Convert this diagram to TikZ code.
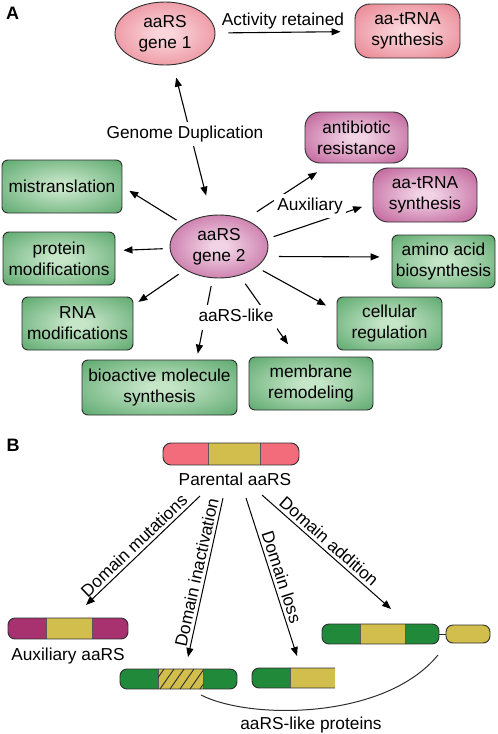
\documentclass[tikz,border=0pt]{standalone}
\usepackage{fontspec}
\setmainfont{Liberation Sans}
\usetikzlibrary{shapes.geometric,arrows.meta}
\definecolor{pinkin}{HTML}{FAD6DB}
\definecolor{pinkout}{HTML}{E77A88}
\definecolor{purpin}{HTML}{F1D3E5}
\definecolor{purpout}{HTML}{BA5390}
\definecolor{grnin}{HTML}{C6E6C8}
\definecolor{grnout}{HTML}{55A467}
\definecolor{edgecol}{HTML}{2E2E2E}
\definecolor{pinkbar}{HTML}{F26C7B}
\definecolor{yelbar}{HTML}{D1BE4C}
\definecolor{grnbar}{HTML}{218A3A}
\definecolor{purpbar}{HTML}{A83270}
\pgfdeclareradialshading{pinkglow}{\pgfpoint{0bp}{0bp}}{color(0bp)=(pinkin); color(4bp)=(pinkin); color(38bp)=(pinkout); color(75bp)=(pinkout)}
\pgfdeclareradialshading{purpglow}{\pgfpoint{0bp}{0bp}}{color(0bp)=(purpin); color(4bp)=(purpin); color(38bp)=(purpout); color(75bp)=(purpout)}
\pgfdeclareradialshading{grnglow}{\pgfpoint{0bp}{0bp}}{color(0bp)=(grnin); color(4bp)=(grnin); color(38bp)=(grnout); color(75bp)=(grnout)}
\begin{document}
\begin{tikzpicture}[x=1pt,y=-1pt,
  every node/.style={font=\fontsize{17.3}{21}\selectfont},
  shadebox/.style={draw=edgecol, line width=0.9pt, align=center, inner sep=0pt},
  gbox/.style={shadebox, rectangle, rounded corners=6pt, shading=grnglow},
  pbox/.style={shadebox, rectangle, rounded corners=15pt, shading=pinkglow},
  ubox/.style={shadebox, rectangle, rounded corners=15pt, shading=purpglow},
  pell/.style={shadebox, ellipse, shading=pinkglow},
  uell/.style={shadebox, ellipse, shading=purpglow},
  arr/.style={line width=1.1pt, -{Triangle[length=9pt,width=7pt]}},
  dblarr/.style={line width=1.1pt, {Triangle[length=9pt,width=7pt]}-{Triangle[length=9pt,width=7pt]}},
  lab/.style={fill=white, anchor=base, inner xsep=3pt, inner ysep=4pt, text height=12.5pt, text depth=4pt},
  blab/.style={anchor=base},
  slab/.style={sloped, above, inner sep=3pt},
  barline/.style={draw=edgecol, line width=0.9pt},
  divline/.style={draw=edgecol!80, line width=0.5pt},
  panellab/.style={font=\fontsize{18}{20}\selectfont\bfseries}
]
\useasboundingbox (0,0) rectangle (498,734);

% ---------- Panel A ----------
\node[panellab] (labA) at (12.5,13.5) {A};

\node[pell, minimum width=100pt, minimum height=63pt] (g1) at (165,33.5) {aaRS\\gene 1};
\node[pbox, minimum width=105pt, minimum height=54pt] (t1) at (407.5,31) {aa-tRNA\\synthesis};
\node[ubox, minimum width=103pt, minimum height=51pt] (ab) at (356.5,137.5) {antibiotic\\resistance};
\node[ubox, minimum width=104pt, minimum height=54pt] (t2) at (425,195) {aa-tRNA\\synthesis};
\node[uell, minimum width=98pt, minimum height=63pt] (g2) at (219,246.5) {aaRS\\gene 2};
\node[gbox, minimum width=120pt, minimum height=53pt] (mis) at (62,186.5) {mistranslation};
\node[gbox, minimum width=112pt, minimum height=53pt] (prot) at (59,258.5) {protein\\modifications};
\node[gbox, minimum width=103pt, minimum height=53pt] (amino) at (443.5,261.5) {amino acid\\biosynthesis};
\node[gbox, minimum width=111pt, minimum height=53pt] (rna) at (77.5,323.5) {RNA\\modifications};
\node[gbox, minimum width=105pt, minimum height=53pt] (cell) at (389.5,323.5) {cellular\\regulation};
\node[gbox, minimum width=155pt, minimum height=55pt] (bio) at (159.5,387.5) {bioactive molecule\\synthesis};
\node[gbox, minimum width=124pt, minimum height=53pt] (mem) at (311,383.5) {membrane\\remodeling};

\draw[arr, shorten <=13pt, shorten >=14pt] (g1) -- (t1);
\node[blab] (actlab) at (283,25) {Activity retained};
\draw[dblarr, shorten <=13pt, shorten >=20pt] (g1) -- (g2);

\draw[arr, shorten <=8pt, shorten >=8pt] (g2) -- (mis.east);
\draw[arr, shorten <=7pt, shorten >=8pt] (g2) -- (prot.8);
\draw[arr, shorten <=8pt, shorten >=6pt] (g2) -- (rna.18);
\draw[arr, shorten <=8pt, shorten >=6pt] (g2) -- (bio.37);
\draw[arr, shorten <=10pt, shorten >=15pt] (g2) -- (mem.118);
\draw[arr, shorten <=7pt, shorten >=12pt] (g2) -- (cell.167);
\draw[arr, shorten <=13pt, shorten >=12pt] (g2.-12) -- (amino.175);
\draw[arr, shorten <=7pt, shorten >=11pt] (g2.9) -- (t2.189);
\draw[arr, shorten <=14pt, shorten >=16pt] (g2.46) -- (ab.225);

\node[lab] (gdlab) at (185,138) {Genome Duplication};
\node[lab] (auxlab) at (310,210) {Auxiliary};
\node[lab] (likelab) at (236,321.5) {aaRS-like};

% ---------- Panel B ----------
\node[panellab] (labB) at (13,445) {B};

% parental bar
\begin{scope}
  \clip[rounded corners=8pt] (163,443) rectangle (299,465);
  \fill[pinkbar] (163,443) rectangle (208,465);
  \fill[yelbar] (208,443) rectangle (260,465);
  \fill[pinkbar] (260,443) rectangle (299,465);
  \draw[divline] (208,443) -- (208,465) (260,443) -- (260,465);
\end{scope}
\draw[barline, rounded corners=8pt] (163,443) rectangle (299,465);
\node[blab] (partext) at (235,485) {Parental aaRS};

% auxiliary bar
\begin{scope}
  \clip[rounded corners=7pt] (8,618) rectangle (128,639);
  \fill[purpbar] (8,618) rectangle (46,639);
  \fill[yelbar] (46,618) rectangle (92,639);
  \fill[purpbar] (92,618) rectangle (128,639);
  \draw[divline] (46,618) -- (46,639) (92,618) -- (92,639);
\end{scope}
\draw[barline, rounded corners=7pt] (8,618) rectangle (128,639);
\node[blab] (auxtext) at (68,660.5) {Auxiliary aaRS};

% inactivation bar
\begin{scope}
  \clip[rounded corners=7pt] (120,669) rectangle (237,689);
  \fill[grnbar] (120,669) rectangle (158,689);
  \fill[yelbar] (158,669) rectangle (203,689);
  \fill[grnbar] (203,669) rectangle (237,689);
  \draw[divline] (158,669) -- (158,689) (203,669) -- (203,689);
\end{scope}
\begin{scope}
  \clip (158,669) rectangle (203,689);
  \foreach \x in {150,160,...,200} \draw[line width=0.9pt, edgecol] (\x,689) -- ++(14,-20);
\end{scope}
\draw[barline, rounded corners=7pt] (120,669) rectangle (237,689);

% loss bar (open right end)
\begin{scope}
  \clip[rounded corners=7pt] (252,668) rectangle (345,688);
  \fill[grnbar] (252,668) rectangle (290,688);
  \fill[yelbar] (290,668) rectangle (335,688);
  \draw[divline] (290,668) -- (290,688);
\end{scope}
\draw[barline, rounded corners=7pt] (335,668) -- (252,668) -- (252,688) -- (335,688);

% addition bar
\begin{scope}
  \clip[rounded corners=7pt] (322,624) rectangle (439,644);
  \fill[grnbar] (322,624) rectangle (360,644);
  \fill[yelbar] (360,624) rectangle (405,644);
  \fill[grnbar] (405,624) rectangle (439,644);
  \draw[divline] (360,624) -- (360,644) (405,624) -- (405,644);
\end{scope}
\draw[barline, rounded corners=7pt] (322,624) rectangle (439,644);
\draw[barline] (439,634) -- (446,634);
\draw[barline, fill=yelbar, rounded corners=7pt] (446,625) rectangle (490,643);

% arrows of panel B
\coordinate (dm0) at (200,496); \coordinate (dm1) at (86,605);
\coordinate (di0) at (223,498); \coordinate (di1) at (188,657);
\coordinate (dl0) at (246,498); \coordinate (dl1) at (297,656);
\coordinate (da0) at (262,495); \coordinate (da1) at (391,609);
\draw[arr, line width=1pt] (dm0) -- node[slab, pos=0.52] (dmlab) {Domain mutations} (dm1);
\draw[arr, line width=1pt] (di0) -- node[slab, pos=0.48] (dilab) {Domain inactivation} (di1);
\draw[arr, line width=1pt] (dl0) -- node[slab, pos=0.52] (dllab) {Domain loss} (dl1);
\draw[arr, line width=1pt] (da0) -- node[slab, pos=0.47] (dalab) {Domain addition} (da1);

% aaRS-like bracket arc
\coordinate (arcA) at (201,695);
\coordinate (arcB) at (438,655);
\draw[line width=1pt, edgecol] (arcA) .. controls (250,720) and (385,720) .. (arcB);
\node[blab] (liketext) at (311,729) {aaRS-like proteins};
\end{tikzpicture}
\end{document}
